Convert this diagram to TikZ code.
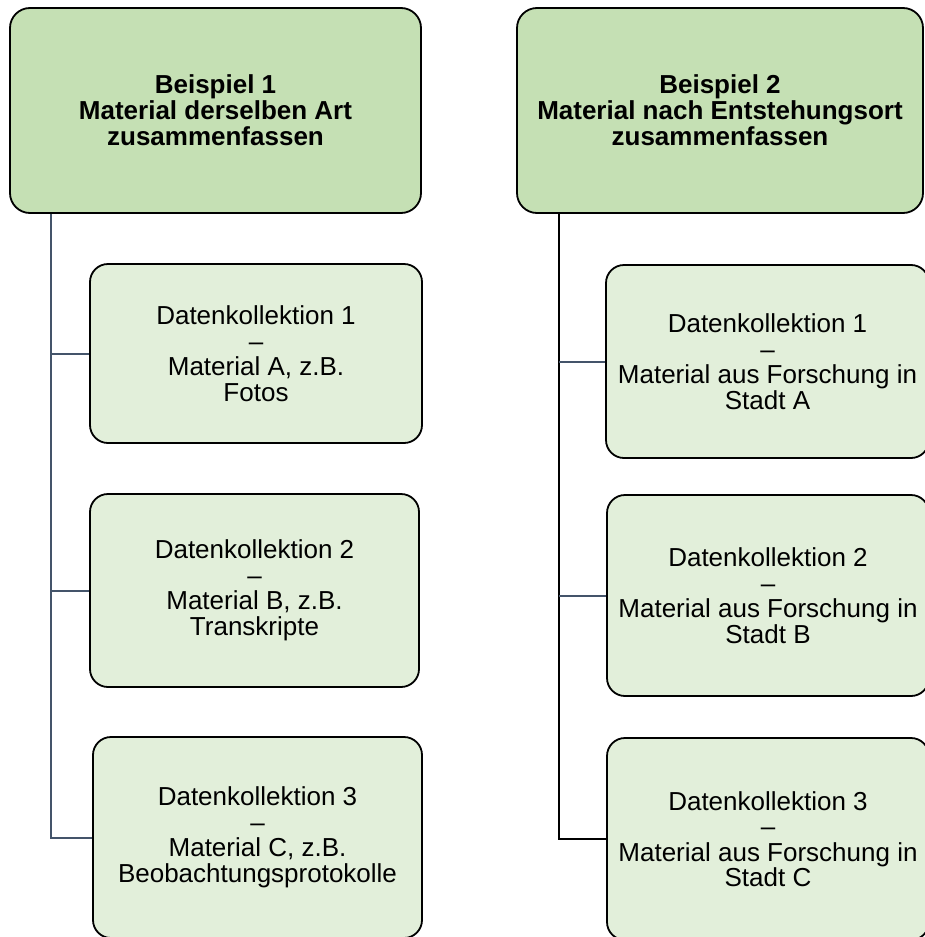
\documentclass[tikz,border=0pt]{standalone}
\usepackage{fontspec}
\setmainfont{Liberation Sans}
\definecolor{topfill}{HTML}{C5E0B4}
\definecolor{childfill}{HTML}{E2EFDA}
\definecolor{slate}{HTML}{44546A}
\begin{document}
\begin{tikzpicture}[x=1pt,y=-1pt,
  topbox/.style={draw=black, line width=1.8pt, fill=topfill, rounded corners=20pt,
    inner sep=0pt, align=center, font=\fontsize{26}{26}\selectfont\bfseries},
  childbox/.style={draw=black, line width=1.8pt, fill=childfill, rounded corners=18pt,
    inner sep=0pt, align=center, font=\fontsize{26}{25.5}\selectfont},
  conn/.style={draw=slate, line width=2pt},
  trunkb/.style={draw=black, line width=2pt}
]
\useasboundingbox (0,0) rectangle (925,937);
\clip (0,0) rectangle (925,937);

% left column
\node[topbox, minimum width=411pt, minimum height=205pt] (t1) at (215.5,110.5)
  {Beispiel 1\\Material derselben Art\\zusammenfassen};
\node[childbox, minimum width=332pt, minimum height=179pt] (c11) at (256,353.5)
  {Datenkollektion 1\\–\\Material A, z.B.\\Fotos};
\node[childbox, minimum width=329pt, minimum height=193pt] (c12) at (254.5,590.5)
  {Datenkollektion 2\\–\\Material B, z.B.\\Transkripte};
\node[childbox, minimum width=329pt, minimum height=201pt] (c13) at (257.5,837.5)
  {Datenkollektion 3\\–\\Material C, z.B.\\Beobachtungsprotokolle};

% right column
\node[topbox, minimum width=406pt, minimum height=205pt] (t2) at (720,110.5)
  {Beispiel 2\\Material nach Entstehungsort\\zusammenfassen};
\node[childbox, minimum width=323pt, minimum height=193pt] (c21) at (767.5,361.5)
  {Datenkollektion 1\\–\\Material aus Forschung in\\Stadt A};
\node[childbox, minimum width=322pt, minimum height=201pt] (c22) at (768,595.5)
  {Datenkollektion 2\\–\\Material aus Forschung in\\Stadt B};
\node[childbox, minimum width=322pt, minimum height=202pt] (c23) at (768,839)
  {Datenkollektion 3\\–\\Material aus Forschung in\\Stadt C};

% connectors
\coordinate (lx) at (51,0);
\coordinate (rx) at (559,0);
\draw[conn] (t1.south -| lx) |- (c13.west);
\draw[conn] (lx |- c11.west) -- (c11.west);
\draw[conn] (lx |- c12.west) -- (c12.west);
\draw[trunkb] (t2.south -| rx) |- (c23.west);
\draw[conn] (rx |- c21.west) -- (c21.west);
\draw[conn] (rx |- c22.west) -- (c22.west);
\end{tikzpicture}
\end{document}
